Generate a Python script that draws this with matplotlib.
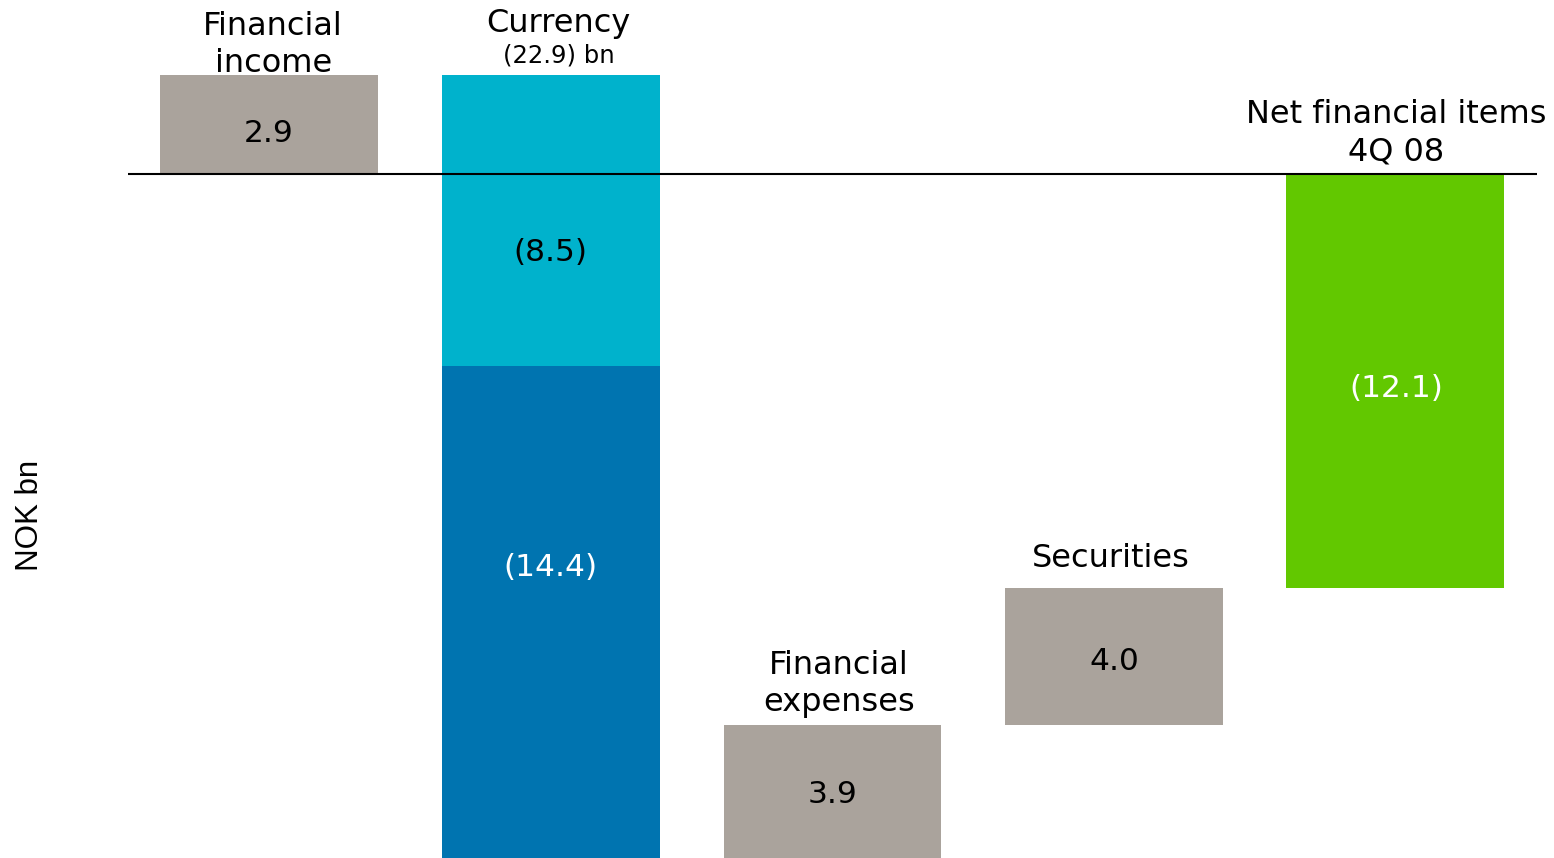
import numpy as np
import matplotlib.pyplot as plt

# waterfall of net financial items, NOK bn
labels = ['Financial\nincome', 'Currency', 'Financial\nexpenses', 'Securities', 'Net financial items\n4Q 08']
steps = [2.9, -8.5, -14.4, 3.9, 4.0]          # visual step order
step_pos = [0, 1, 1, 2, 3]                     # which column each step sits in
step_text = ['2.9', '(8.5)', '(14.4)', '3.9', '4.0']
net_value = -12.1
net_text = '(12.1)'
currency_total = '(22.9) bn'

grey = '#aaa39c'
colors = [grey, '#00b2cc', '#0074b0', grey, grey]
text_colors = ['black', 'black', 'white', 'black', 'black']
net_color = '#62c800'

fig = plt.figure(figsize=(15.54, 8.58), dpi=100)
ax = fig.add_axes([128 / 1554, 0, (1537 - 128) / 1554, 1])

tops = np.cumsum(steps)
starts = tops - np.array(steps)
width = 0.773
nudge = [-0.26, -0.94, 1.3, -0.1, -0.15]   # label offsets inside bars
for i, (s, v) in enumerate(zip(starts, steps)):
    ax.bar(step_pos[i], v, bottom=s, width=width, color=colors[i], zorder=1)
    ax.text(step_pos[i], s + v / 2 + nudge[i], step_text[i], ha='center', va='center',
            fontsize=22.5, color=text_colors[i], zorder=3)

ax.bar(3.995, net_value, width=width, color=net_color, zorder=1)
ax.text(4, net_value / 2 - 0.23, net_text, ha='center', va='center', fontsize=22.5,
        color='white', zorder=3)

ax.axhline(0, color='black', lw=1.5, zorder=2)

ax.set_xlim(-0.5, 4.5)
ax.set_ylim(-20, 5.09)

# category labels
ax.text(0.015, 3.78, labels[0], ha='center', va='center', fontsize=23, linespacing=1.25)
ax.text(1.026, 4.40, labels[1], ha='center', va='center', fontsize=23)
ax.text(1.03, 3.46, currency_total, ha='center', va='center', fontsize=17.5)
ax.text(2.023, -14.9, labels[2], ha='center', va='center', fontsize=23, linespacing=1.25)
ax.text(2.988, -11.25, labels[3], ha='center', va='center', fontsize=23)
ax.text(4.0, 1.19, labels[4], ha='center', va='center', fontsize=23, linespacing=1.25)

ax.axis('off')
fig.text(30 / 1554, 1 - 515 / 858, 'NOK bn', rotation=90, ha='center', va='center',
         fontsize=22.5, family='Liberation Sans')

plt.savefig('out.png', dpi=100)
